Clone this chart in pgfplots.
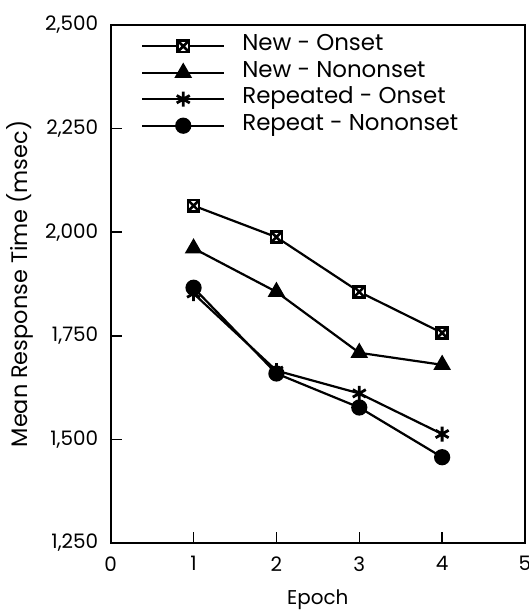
\documentclass[border=0pt]{standalone}
\usepackage{pgfplots}
\pgfplotsset{compat=1.18}
\usepackage{fontspec}
\setmainfont{Poppins}
\usetikzlibrary{plotmarks}
\pgfdeclareplotmark{boxx}{%
  \pgfpathrectangle{\pgfqpoint{-\pgfplotmarksize}{-\pgfplotmarksize}}{\pgfqpoint{2\pgfplotmarksize}{2\pgfplotmarksize}}%
  \pgfusepathqfillstroke
  \pgfpathmoveto{\pgfqpoint{-\pgfplotmarksize}{-\pgfplotmarksize}}\pgfpathlineto{\pgfqpoint{\pgfplotmarksize}{\pgfplotmarksize}}%
  \pgfpathmoveto{\pgfqpoint{-\pgfplotmarksize}{\pgfplotmarksize}}\pgfpathlineto{\pgfqpoint{\pgfplotmarksize}{-\pgfplotmarksize}}%
  \pgfusepathqstroke}
\begin{document}
\begin{tikzpicture}[font=\fontsize{20}{24}\selectfont]
\begin{axis}[
  at={(0,0)}, anchor=south west,
  scale only axis, width=414.3bp, height=518bp,
  xmin=0, xmax=5, ymin=1250, ymax=2500,
  xtick={0,1,2,3,4,5}, ytick={1250,1500,1750,2000,2250,2500},
  xtick pos=left, ytick pos=left, tick align=inside,
  major tick length=11bp,
  axis line style={line width=1.7bp},
  every tick/.style={line width=1.5bp, black},
  /pgf/number format/assume math mode=true,
  /pgf/number format/1000 sep={,},
  scaled y ticks=false,
  xticklabel style={yshift=-10bp},
  yticklabel style={xshift=-9bp},
  xlabel={Epoch},
  ylabel={Mean Response Time (msec)},
  xlabel style={at={(axis description cs:0.5,-0.110)}, anchor=center},
  ylabel style={at={(axis description cs:-0.219,0.5)}, anchor=center, rotate=0, font=\fontsize{22.5}{26}\selectfont},
  every axis plot/.append style={line width=2.2bp, black},
  legend cell align=left,
  legend style={draw=none, fill=none, at={(axis description cs:0.073,0.985)}, anchor=north west,
    row sep=0pt, inner sep=0pt, font=\fontsize{23}{27}\selectfont,
    nodes={inner xsep=10bp, inner ysep=4bp, text height=14bp, text depth=4.5bp},
    /tikz/every odd column/.append style={column sep=7bp}},
  legend image code/.code={%
    \draw[mark repeat=2, mark phase=2] plot coordinates {(0bp,0bp) (41bp,0bp) (82bp,0bp)};},
]
\addplot[mark=boxx, mark size=5.6bp, mark options={fill=white, line width=2.6bp}]
  coordinates {(1,2064) (2,1988) (3,1856) (4,1757)};
\addlegendentry{New - Onset}
\addplot[mark=triangle*, mark size=8bp, mark options={solid}]
  coordinates {(1,1961) (2,1856) (3,1709) (4,1680)};
\addlegendentry{New - Nononset}
\addplot[mark=asterisk, mark size=7.5bp, mark options={line width=2.8bp}]
  coordinates {(1,1852) (2,1666) (3,1611) (4,1513)};
\addlegendentry{Repeated - Onset}
\addplot[mark=*, mark size=7bp]
  coordinates {(1,1866) (2,1659) (3,1577) (4,1457)};
\addlegendentry{Repeat - Nononset}
\end{axis}
\pgfresetboundingbox
\useasboundingbox (-110.7bp,-69bp) rectangle (418.3bp,543bp);
\end{tikzpicture}
\end{document}
